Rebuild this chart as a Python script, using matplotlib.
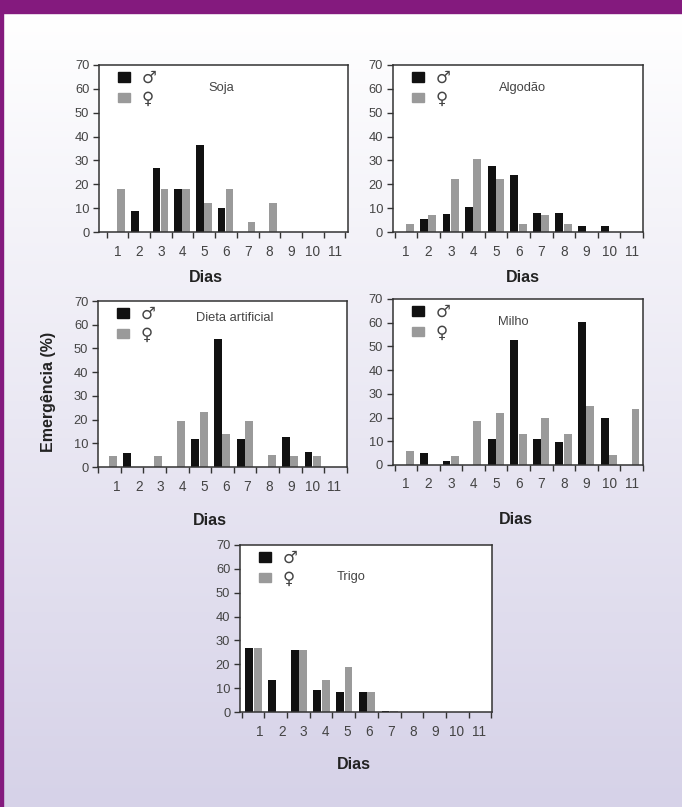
import numpy as np
import matplotlib.pyplot as plt
from matplotlib.patches import Patch, Rectangle

plt.rcParams['font.family'] = ['Liberation Sans', 'DejaVu Sans']

# emergence (%) per day slot, males and females
soja_m = [0, 9, 27, 18, 36.5, 10, 0, 0, 0, 0, 0]
soja_f = [18, 0, 18, 18, 12, 18, 4, 12, 0, 0, 0]
algodao_m = [0, 5.6, 7.7, 10.5, 27.6, 23.8, 8.1, 8.1, 2.5, 2.5, 0]
algodao_f = [3.2, 7.3, 22.4, 30.4, 22.4, 3.2, 7, 3.2, 0, 0, 0]
dieta_m = [0, 5.9, 0, 0, 11.9, 53.8, 11.9, 0, 12.5, 6.2, 0]
dieta_f = [4.8, 0, 4.8, 19.6, 23.1, 14, 19.2, 5.2, 4.8, 4.8, 0]
milho_m = [0, 4.9, 1.7, 0, 11, 52.7, 11, 9.8, 60.2, 20, 0]
milho_f = [6, 0, 3.9, 18.6, 22, 13.1, 19.7, 13.1, 24.9, 4.2, 23.6]
trigo_m = [26.9, 13.3, 25.9, 9.4, 8.3, 8.3, 0.6, 0, 0, 0, 0]
trigo_f = [26.9, 0, 25.9, 13.3, 18.8, 8.3, 0.3, 0, 0, 0, 0]

day_labels = [str(d) for d in range(1, 12)]
y_ticks = [0, 10, 20, 30, 40, 50, 60, 70]

BLACK = '#111111'
GRAY = '#9a9a9a'
TXT = '#444444'

fig = plt.figure(figsize=(6.82, 8.07), dpi=100)

# background: purple band + light lavender gradient
bg = fig.add_axes([0, 0, 1, 1], zorder=-10)
grad = np.linspace(0, 1, 256)[:, None]
c_top = np.array([1.0, 1.0, 1.0])
c_bot = np.array([0xd6, 0xd2, 0xe8]) / 255
img = c_top + (c_bot - c_top) * grad[..., None]
img = np.repeat(img, 2, axis=1)
bg.imshow(img, extent=[0, 1, 0, 1 - 13 / 807], aspect='auto')
bg.set_xlim(0, 1)
bg.set_ylim(0, 1)
bg.axis('off')
fig.patches.append(Rectangle((0, 1 - 13 / 807), 1, 13 / 807, transform=fig.transFigure,
                             color='#841a7e', zorder=-5))
fig.patches.append(Rectangle((0, 0), 2.5 / 682, 1, transform=fig.transFigure,
                             color='#841a7e', zorder=-5))

panels = [
    # name, male, female, axes rect, xlim, label positions, bar offset, title pos, dias pos
    ('Soja', soja_m, soja_f, [0.1452, 0.7125, 0.365, 0.207], (-0.35, 11.12),
     np.arange(11) + 0.5, 0.0, (0.49, 0.862), (0.43, -0.27)),
    ('Algodão', algodao_m, algodao_f, [0.5762, 0.7125, 0.3666, 0.207], (-0.07, 10.9),
     np.arange(11) + 0.5, 0.0, (0.52, 0.86), (0.52, -0.275)),
    ('Dieta artificial', dieta_m, dieta_f, [0.1437, 0.4213, 0.365, 0.2057], (0, 10.96),
     np.linspace(0.84, 10.44, 11), 0.0, (0.55, 0.9), (0.45, -0.32)),
    ('Milho', milho_m, milho_f, [0.5762, 0.4238, 0.3666, 0.2057], (-0.07, 10.9),
     np.arange(11) + 0.5, 0.0, (0.48, 0.86), (0.49, -0.33)),
    ('Trigo', trigo_m, trigo_f, [0.3519, 0.1177, 0.3695, 0.207], (-0.07, 11.03),
     np.linspace(0.81, 10.44, 11), 0.04, (0.44, 0.81), (0.45, -0.317)),
]

for name, males, females, rect, xlim, lab_pos, off, tpos, dpos in panels:
    ax = fig.add_axes(rect)
    ax.set_facecolor('white')
    slots = np.arange(len(males))
    ax.bar(slots + 0.3 + off, males, width=0.35, color=BLACK, linewidth=0)
    ax.bar(slots + 0.67 + off, females, width=0.35, color=GRAY, linewidth=0)
    ax.set_xlim(*xlim)
    ax.set_ylim(0, 70)
    ax.set_yticks(y_ticks)
    ax.set_xticks(np.arange(12))
    ax.set_xticklabels([])
    ax.set_xticks(lab_pos, minor=True)
    ax.set_xticklabels(day_labels, minor=True)
    ax.tick_params(axis='x', which='major', direction='out', length=4, width=1, color='#333333')
    ax.tick_params(axis='x', which='minor', length=0, pad=9, labelsize=9.8, labelcolor=TXT)
    ax.tick_params(axis='y', direction='out', length=4, width=1, pad=3,
                   labelsize=9.3, labelcolor=TXT, color='#333333')
    for sp in ax.spines.values():
        sp.set_color('#333333')
        sp.set_linewidth(1.1)
    ax.text(tpos[0], tpos[1], name, transform=ax.transAxes, ha='center', va='center',
            fontsize=9.3, color=TXT)
    ax.set_xlabel('Dias', fontsize=11.5, fontweight='bold', color='#222222')
    ax.xaxis.set_label_coords(*dpos)
    ax.xaxis.label.set_va('center')
    leg = ax.legend([Patch(color=BLACK), Patch(color=GRAY)], ['♂', '♀'],
                    loc='upper left', bbox_to_anchor=(0.076, 0.975), frameon=False,
                    prop={'family': 'DejaVu Sans', 'size': 12}, handlelength=0.7,
                    handleheight=0.5, handletextpad=0.7, labelspacing=0.15,
                    borderpad=0, borderaxespad=0, labelcolor=TXT)

fig.text(48 / 682, 1 - 392 / 807, 'Emergência (%)', rotation=90, ha='center', va='center',
         fontsize=11.5, fontweight='bold', color='#222222')

fig.savefig('out.png', dpi=100)
